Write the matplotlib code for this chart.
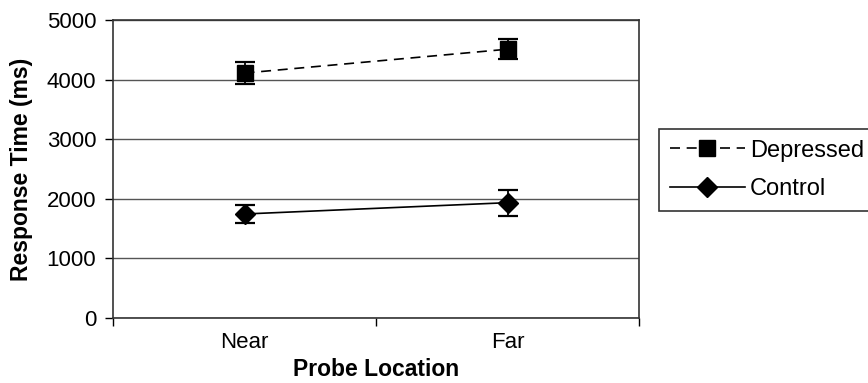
import matplotlib
matplotlib.use("Agg")
import matplotlib.pyplot as plt

# Values
categories = ["Near", "Far"]
depressed = [4110, 4510]
depressed_err = [180, 170]
control = [1745, 1935]
control_err = [150, 220]
y_ticks = [0, 1000, 2000, 3000, 4000, 5000]

plt.rcParams["font.family"] = ["Liberation Sans", "DejaVu Sans"]

fig = plt.figure(figsize=(8.68, 3.83), dpi=100)
ax = fig.add_axes([113 / 868, 65 / 383, (639 - 113) / 868, (318 - 20) / 383])

xpos = [0.5, 1.5]
dep = ax.errorbar(xpos, depressed, yerr=depressed_err, color="black", ls=(0, (6, 4)),
                  lw=1.2, marker="s", ms=11, capsize=7.5, capthick=1.6, elinewidth=1.3,
                  zorder=3)
ctl = ax.errorbar(xpos, control, yerr=control_err, color="black", ls="-",
                  lw=1.2, marker="D", ms=10, capsize=7.5, capthick=1.6, elinewidth=1.3,
                  zorder=3)

ax.set_xlim(0, 2)
ax.set_ylim(0, 5000)
ax.set_yticks(y_ticks)
ax.set_xticks([0, 1, 2])
ax.set_xticklabels([])
ax.set_xticks(xpos, minor=True)
ax.set_xticklabels(categories, minor=True)
ax.tick_params(axis="x", which="minor", length=0, pad=10, labelsize=16)
ax.tick_params(axis="x", which="major", length=6, direction="out", width=1)
ax.tick_params(axis="y", length=6, direction="out", width=1, labelsize=16, pad=6)
ax.yaxis.grid(True, color="#555555", lw=1)
ax.set_axisbelow(True)
for s in ax.spines.values():
    s.set_color("#333333")
    s.set_linewidth(1.2)

ax.set_xlabel("Probe Location", fontsize=16.5, fontweight="bold", labelpad=4)
ax.set_ylabel("Response Time (ms)", fontsize=16.5, fontweight="bold", labelpad=10)

# legend shows only the data lines, no error bars
leg = fig.legend(handles=[dep[0], ctl[0]], labels=["Depressed", "Control"],
                 loc="upper left", bbox_to_anchor=(659 / 868, 1 - 129 / 383),
                 fontsize=17, frameon=True, fancybox=False, edgecolor="black",
                 handlelength=3.2, handletextpad=0.2, borderpad=0.45,
                 labelspacing=0.7, borderaxespad=0)
leg.get_frame().set_linewidth(1.2)

fig.savefig("out.png", dpi=100)
